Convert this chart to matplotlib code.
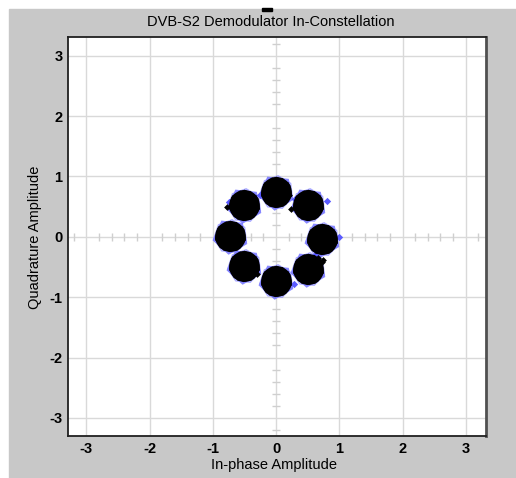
import numpy as np
import matplotlib
matplotlib.use("Agg")
import matplotlib.pyplot as plt
from matplotlib.patches import Rectangle

plt.rcParams['font.family'] = ['Liberation Sans', 'DejaVu Sans']
plt.rcParams['axes.unicode_minus'] = False

# 8PSK symbol centres (I, Q)
sym_i = [0.72, 0.51, 0.00, -0.50, -0.73, -0.51, 0.00, 0.51]
sym_q = [-0.04, 0.52, 0.74, 0.52, 0.01, -0.49, -0.73, -0.53]

# samples that fall outside the main clouds
stray_i = [-0.77, 0.24, 0.66, 0.73, 0.74, -0.30, 0.21]
stray_q = [0.49, 0.46, -0.35, -0.42, -0.38, -0.62, 0.70]
blue_i = [1.00, -0.74, 0.30, -0.60, 0.80, -0.25, 0.28, -0.80, 0.62]
blue_q = [0.00, 0.58, 0.62, -0.35, 0.60, 0.70, -0.78, 0.12, -0.30]

ticks = [-3, -2, -1, 0, 1, 2, 3]
minor = [v / 5 for v in range(-16, 17) if v % 5 != 0]

fig = plt.figure(figsize=(5.16, 4.78), dpi=100, facecolor='white')
fig.patches.append(Rectangle((9 / 516, 0), 507 / 516, 469 / 478,
                             transform=fig.transFigure, color='#c8c8c8', zorder=-5))
fig.patches.append(Rectangle((262 / 516, 1 - 11 / 478), 10 / 516, 3 / 478,
                             transform=fig.transFigure, color='black', zorder=-4))

ax = fig.add_axes([68 / 516, 1 - 436 / 478, 418 / 516, 399 / 478])
ax.set_facecolor('white')
ax.set_xlim(-3.29, 3.32)
ax.set_ylim(-3.3, 3.31)
ax.set_xticks(ticks)
ax.set_yticks(ticks)
ax.grid(True, color='#d9d9d9', lw=1)
ax.set_axisbelow(True)
ax.tick_params(length=0, pad=4, labelsize=10.5)
for lab in ax.get_xticklabels() + ax.get_yticklabels():
    lab.set_fontweight('bold')
for side in ['left', 'top', 'bottom']:
    ax.spines[side].set_color('#202020')
    ax.spines[side].set_linewidth(1.3)
ax.spines['right'].set_color('#505050')
ax.spines['right'].set_linewidth(2)

# small division marks along the zero lines
ax.plot(minor, [0] * len(minor), ls='none', marker='|', ms=6, mew=1, color='#cfcfcf', zorder=1)
ax.plot([0] * len(minor), minor, ls='none', marker='_', ms=6, mew=1, color='#cfcfcf', zorder=1)

# received constellation: blue fringe under a ragged black core
ax.scatter(sym_i, sym_q, s=700, marker=(5, 0, 30), color='#6060ff', alpha=0.75, lw=0, zorder=2)
ax.scatter(sym_i, sym_q, s=640, marker=(7, 0, 200), color='#7a7aff', alpha=0.6, lw=0, zorder=2)
ax.scatter(blue_i, blue_q, s=14, marker='D', color='#5a5aff', lw=0, zorder=2)
ax.scatter(sym_i, sym_q, s=490, marker='o', color='black', lw=0, zorder=3)
ax.scatter(sym_i, sym_q, s=520, marker=(7, 0, 0), color='black', lw=0, zorder=3)
ax.scatter(sym_i, sym_q, s=510, marker=(9, 0, 17), color='black', lw=0, zorder=3)
ax.scatter(stray_i, stray_q, s=12, marker='D', color='black', lw=0, zorder=3)

fig.text(271 / 516, 1 - 22 / 478, 'DVB-S2 Demodulator In-Constellation',
         ha='center', va='center', fontsize=10.5)
fig.text(274 / 516, 1 - 465 / 478, 'In-phase Amplitude', ha='center', va='center', fontsize=10.5)
fig.text(35 / 516, 1 - 237 / 478, 'Quadrature Amplitude', ha='center', va='center',
         rotation=90, fontsize=10.5)

fig.savefig('out.png', dpi=100, facecolor=fig.get_facecolor())
